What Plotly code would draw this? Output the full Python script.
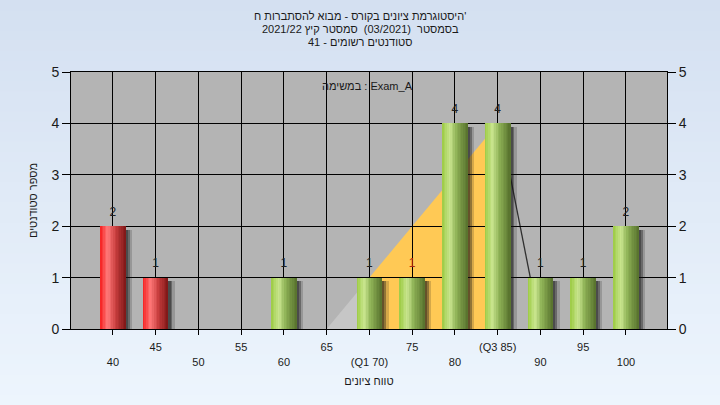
import plotly.graph_objects as go

# ---------------- data ----------------
grades = [40, 45, 50, 55, 60, 65, 70, 75, 80, 85, 90, 95, 100]
counts = [2, 1, 0, 0, 1, 0, 1, 1, 4, 4, 1, 1, 2]
pass_mark = 55
median_grade = 75
ticks_upper = [45, 55, 65, 75, 85, 95]
ticks_upper_text = ["45", "55", "65", "75", "(Q3 85)", "95"]
ticks_lower = [40, 50, 60, 70, 80, 90, 100]
ticks_lower_text = ["40", "50", "60", "(Q1 70)", "80", "90", "100"]
ramp_low_x = [65, 70, 70]          # light wedge before Q1
ramp_low_y = [0, 1, 0]
ramp_x = [70, 70, 85, 85]           # Q1..Q3 band
ramp_y = [0, 1, 4, 0]
tail_x = [85.25, 90]
tail_y = [4, 0]

title_lines = ["היסטוגרמת ציונים בקורס - מבוא להסתברות ח'",
               "בסמסטר  (03/2021)  סמסטר קיץ 2021/22",
               "סטודנטים רשומים - 41"]
legend_text = "במשימה : Exam_A"
x_title = "טווח ציונים"
y_title = "מספר סטודנטים"

FONT = "Liberation Sans, Arial, sans-serif"
TXT = "#1a1a1a"

# ---------------- helpers ----------------
def lerp(c1, c2, t):
    return tuple(round(a + (b - a) * t) for a, b in zip(c1, c2))

def profile(stops, t):
    for (p1, c1), (p2, c2) in zip(stops, stops[1:]):
        if p1 <= t <= p2:
            return lerp(c1, c2, (t - p1) / (p2 - p1) if p2 > p1 else 0)
    return stops[-1][1]

def path_of(xs, ys, close=True):
    p = "M " + " L ".join(f"{x},{y}" for x, y in zip(xs, ys))
    return p + (" Z" if close else "")

green_stops = [(0.0, (155, 202, 66)), (0.3, (202, 230, 144)), (0.55, (142, 178, 86)), (1.0, (86, 112, 44))]
red_stops = [(0.0, (245, 30, 30)), (0.3, (255, 122, 122)), (0.6, (200, 62, 62)), (1.0, (125, 22, 22))]

BAR_W = 3.0
N_STRIPS = 16

fig = go.Figure()

nz = [(g, c) for g, c in zip(grades, counts) if c > 0]
nz_x = [g for g, _ in nz]
nz_y = [c for _, c in nz]

# shadows
for shift, alpha in [(0.75, 0.18), (0.45, 0.35), (0.25, 0.35)]:
    fig.add_trace(go.Bar(x=nz_x, y=[v - 0.07 for v in nz_y], width=BAR_W,
                         offset=-BAR_W / 2 + shift, marker=dict(color=f"rgba(20,20,20,{alpha})", line=dict(width=0)),
                         hoverinfo="skip", showlegend=False))

# gradient bars as strips
sw = BAR_W / N_STRIPS
for group_stops, cond in [(red_stops, lambda g: g < pass_mark), (green_stops, lambda g: g >= pass_mark)]:
    gx = [g for g in nz_x if cond(g)]
    gy = [c for g, c in zip(nz_x, nz_y) if cond(g)]
    for i in range(N_STRIPS):
        t = (i + 0.5) / N_STRIPS
        col = profile(group_stops, t)
        fig.add_trace(go.Bar(x=gx, y=gy, width=sw * 1.25 if i < N_STRIPS - 1 else sw,
                             offset=-BAR_W / 2 + i * sw,
                             marker=dict(color=f"rgb{col}", line=dict(width=0)),
                             hoverinfo="skip", showlegend=False))

# value labels
fig.add_trace(go.Scatter(x=nz_x, y=nz_y, mode="markers+text", text=[str(v) for v in nz_y],
                         textposition="top center",
                         marker=dict(size=10, opacity=0),
                         textfont=dict(family=FONT, size=12,
                                       color=["#b02a10" if g == median_grade else "#202020" for g in nz_x]),
                         hoverinfo="skip", showlegend=False))

# invisible trace to anchor secondary axes
fig.add_trace(go.Scatter(x=[grades[0]], y=[0], xaxis="x2", yaxis="y2", mode="markers",
                         marker=dict(opacity=0), hoverinfo="skip", showlegend=False))

# background gradient + plot area
shapes = []
top_c = (212, 224, 241)
bot_c = (237, 245, 253)
H = 405
pt, pb = 72, 329
N = 40
for k in range(N):
    y0px = H * k / N
    y1px = H * (k + 1) / N + 1
    col = lerp(top_c, bot_c, k / (N - 1))
    shapes.append(dict(type="rect", xref="paper", yref="paper", layer="below",
                       x0=-0.2, x1=1.2,
                       y0=(pb - y1px) / (pb - pt), y1=(pb - y0px) / (pb - pt),
                       fillcolor=f"rgb{col}", line=dict(width=0)))
shapes.append(dict(type="rect", xref="paper", yref="paper", layer="below",
                   x0=0, x1=1, y0=0, y1=1, fillcolor="rgb(180,180,180)", line=dict(width=0)))
# distribution wedge, band and tail (data coordinates, behind bars)
shapes.append(dict(type="path", xref="x", yref="y", layer="below",
                   path=path_of(ramp_low_x, ramp_low_y), fillcolor="rgb(198,198,198)", line=dict(width=0)))
shapes.append(dict(type="path", xref="x", yref="y", layer="below",
                   path=path_of(ramp_x, ramp_y), fillcolor="rgb(255,201,85)", line=dict(width=0)))
shapes.append(dict(type="path", xref="x", yref="y", layer="below",
                   path=path_of(tail_x, tail_y, close=False), line=dict(width=1.3, color="#303030")))

annotations = []
for i, line in enumerate(title_lines):
    annotations.append(dict(text=line, xref="paper", yref="paper", x=(360 - 71) / 596,
                            y=(pb - (16 + 13 * i)) / (pb - pt), showarrow=False,
                            xanchor="center", yanchor="middle",
                            font=dict(family=FONT, size=11, color=TXT)))
annotations.append(dict(text=legend_text, xref="paper", yref="paper", x=(367 - 71) / 596,
                        y=(pb - 86) / (pb - pt), showarrow=False, xanchor="center", yanchor="middle",
                        font=dict(family=FONT, size=11, color=TXT)))

axis_common = dict(range=[35.1, 104.8], showgrid=True, gridcolor="black", gridwidth=1,
                   ticks="outside", ticklen=5, tickcolor="black", tickwidth=1,
                   tickfont=dict(family=FONT, size=11, color=TXT), zeroline=False)

fig.update_layout(
    width=720, height=405,
    margin=dict(l=71, r=53, t=72, b=76),
    paper_bgcolor="rgb(225,234,247)",
    plot_bgcolor="rgba(0,0,0,0)",
    barmode="overlay",
    bargap=0,
    showlegend=False,
    shapes=shapes,
    annotations=annotations,
    xaxis=dict(**axis_common, tickmode="array", tickvals=ticks_upper, ticktext=ticks_upper_text,
               showline=True, linecolor="black", mirror=True, ticklabelstandoff=3,
               title=dict(text=x_title, font=dict(family=FONT, size=11, color=TXT), standoff=25)),
    xaxis2=dict(**axis_common, overlaying="x", side="bottom", tickmode="array",
                tickvals=ticks_lower, ticktext=ticks_lower_text, ticklabelstandoff=18, showline=False),
    yaxis=dict(range=[0, 5], dtick=1, showgrid=True, gridcolor="black", zeroline=False,
               showline=True, linecolor="black", mirror=True,
               ticks="outside", ticklen=8, tickcolor="black",
               tickfont=dict(family=FONT, size=14, color=TXT),
               title=dict(text=y_title, font=dict(family=FONT, size=11, color=TXT), standoff=11)),
    yaxis2=dict(range=[0, 5], dtick=1, overlaying="y", side="right", showgrid=False, zeroline=False,
                showline=True, linecolor="black", ticks="outside", ticklen=8, tickcolor="black",
                tickfont=dict(family=FONT, size=14, color=TXT)),
)

fig.write_html("out.html", config={"displayModeBar": False},
               post_script="document.body.style.margin='0';")
